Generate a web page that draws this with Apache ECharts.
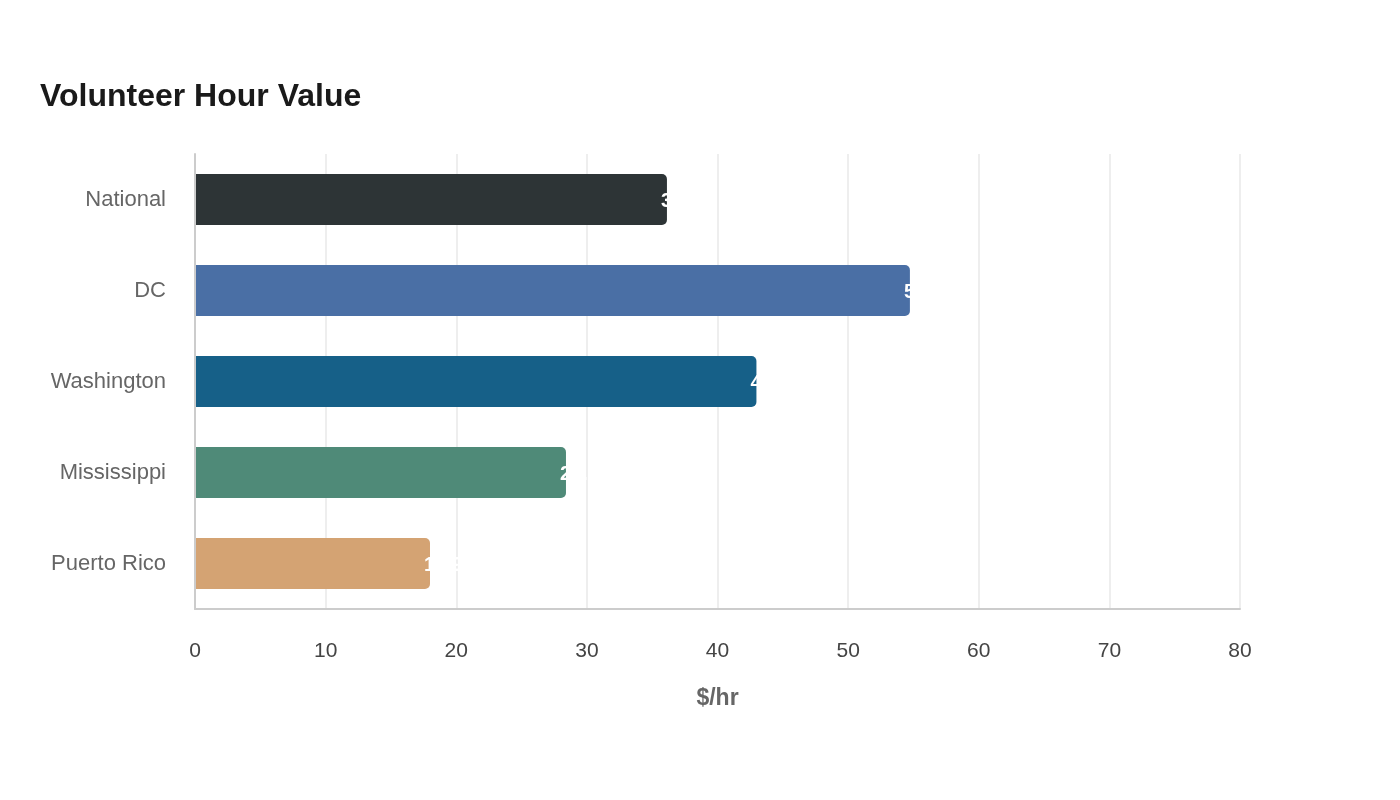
<!DOCTYPE html>
<html>
<head>
<meta charset="utf-8">
<script src="https://cdn.jsdelivr.net/npm/echarts@6.0.0/dist/echarts.min.js"></script>
<style>
  html, body { margin: 0; padding: 0; background: #fff; }
  #chart { width: 1400px; height: 800px; }
</style>
</head>
<body>
<div id="chart"></div>
<script>
// Data
const categories = ["National", "DC", "Washington", "Mississippi", "Puerto Rico"];
const values = [36.13, 54.73, 42.98, 28.40, 17.99];
const barColors = ["#2d3436", "#4a6fa5", "#166088", "#4f8a78", "#d4a373"];

const chart = echarts.init(document.getElementById("chart"));

chart.setOption({
  animation: false,
  textStyle: { fontFamily: "Liberation Sans, Arial, sans-serif" },
  title: {
    text: "Volunteer Hour Value",
    left: 35,
    top: 76,
    textStyle: { fontSize: 32, fontWeight: "bold", color: "#1a1a1a" }
  },
  grid: { left: 195, right: 160, top: 154, bottom: 191 },
  xAxis: {
    type: "value",
    min: 0,
    max: 80,
    interval: 10,
    name: "$/hr",
    nameLocation: "middle",
    nameGap: 78,
    nameTextStyle: { fontSize: 23, fontWeight: "bold", color: "#666" },
    axisLine: { show: true, lineStyle: { color: "#ccc", width: 2 } },
    axisTick: { show: false },
    axisLabel: { fontSize: 21, color: "#444", margin: 32 },
    splitLine: { lineStyle: { color: "#eee", width: 2 } }
  },
  yAxis: {
    type: "category",
    data: categories,
    inverse: true,
    z: 3,
    axisLine: { show: true, lineStyle: { color: "#ccc", width: 2 } },
    axisTick: { show: false },
    axisLabel: { fontSize: 22, color: "#666", margin: 29, padding: [2, 0, 0, 0] }
  },
  series: [{
    type: "bar",
    barWidth: "56%",
    data: values.map((v, i) => ({ value: v, itemStyle: { color: barColors[i] } })),
    itemStyle: { borderRadius: [0, 5, 5, 0] },
    label: {
      show: true,
      position: "right",
      distance: -6,
      offset: [0, 2],
      color: "#fff",
      fontSize: 20,
      fontWeight: "bold",
      formatter: (p) => p.value.toFixed(2)
    }
  }]
});
</script>
</body>
</html>
